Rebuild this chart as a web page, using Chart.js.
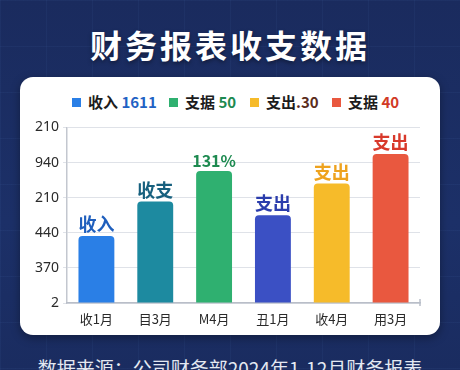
<!DOCTYPE html>
<html><head><meta charset="utf-8">
<script src="https://cdn.jsdelivr.net/npm/chart.js@4/dist/chart.umd.min.js"></script>
<style>
html,body{margin:0;padding:0;}
body{width:460px;height:370px;overflow:hidden;position:relative;font-family:"Noto Sans CJK SC","Noto Sans",sans-serif;
background:
 linear-gradient(rgba(90,130,200,0.07) 1px, transparent 1px) 0 0/46px 46px,
 linear-gradient(90deg, rgba(90,130,200,0.07) 1px, transparent 1px) 0 0/46px 46px,
 linear-gradient(180deg,#1a2b5e 0%,#1c3068 60%,#1a2c60 100%);}
#title{position:absolute;left:0;top:22px;width:460px;text-align:center;color:#fff;font-size:32px;font-weight:700;letter-spacing:3px;line-height:44px;text-shadow:0 2px 4px rgba(0,0,0,0.4);}
#card{position:absolute;left:20px;top:77px;width:420px;height:258px;background:#fff;border-radius:13px;box-shadow:0 3px 10px rgba(0,0,0,0.35);}
#legend{position:absolute;left:20px;top:91px;width:420px;height:22px;font-size:15px;font-weight:700;color:#1c1c1c;}
.li{position:absolute;top:0;line-height:22px;white-space:nowrap;}
.sq{display:inline-block;width:9px;height:9px;margin-right:7px;vertical-align:1px;}
#cv{position:absolute;left:20px;top:115px;}
#foot{position:absolute;left:0;top:355px;width:460px;text-align:center;color:#e4e9f2;font-size:19px;line-height:26px;}
</style></head>
<body>
<div id="title">财务报表收支数据</div>
<div id="card"></div>
<div id="legend"></div>
<canvas id="cv" width="420" height="215"></canvas>
<div id="foot">数据来源：公司财务部2024年1-12月财务报表</div>
<script>
const categories = ["收1月","目3月","M4月","丑1月","收4月","用3月"];
const values = [1.91, 2.89, 3.76, 2.50, 3.40, 4.24];
const barLabels = ["收入","收支","131%","支出","支出","支出"];
const yTickLabels = ["2","370","440","210","940","210"];
const legendNames = ["收入","支据","支出","支据"];
const legendValues = ["1611","50",".30","40"];

const barColors = ["#2a7fe6","#1d8aa0","#2fb070","#3b50c4","#f6bb2a","#e9583f"];
const labelColors = ["#1f5fbd","#17607e","#1d8a50","#2b3dac","#eea21e","#d8392b"];
const legendSq = ["#2a7fe6","#2fb070","#f6bb2a","#e9583f"];
const legendValColors = ["#1f62c4","#1d8a50","#5a2c1c","#d13a26"];
const legendX = [52,149,230,312];

const lg = document.getElementById('legend');
legendNames.forEach((n,i)=>{
  const d=document.createElement('div');d.className='li';d.style.left=legendX[i]+'px';
  d.innerHTML='<span class="sq" style="background:'+legendSq[i]+'"></span>'+n+
    (i===2?'':' ')+'<span style="color:'+legendValColors[i]+'">'+legendValues[i]+'</span>';
  lg.appendChild(d);
});

const valueLabelPlugin = {
  id:'vl',
  afterDatasetsDraw(chart){
    const ctx=chart.ctx; const meta=chart.getDatasetMeta(0);
    ctx.save(); ctx.textAlign='center'; ctx.textBaseline='alphabetic';
    meta.data.forEach((bar,i)=>{
      const small = barLabels[i].indexOf('%')>=0;
      ctx.font='700 '+(small?16:18)+'px "Noto Sans CJK SC", sans-serif';
      ctx.fillStyle=labelColors[i];
      ctx.fillText(barLabels[i], bar.x, bar.y-(small?4:5));
    });
    const a=chart.chartArea;
    ctx.strokeStyle='#b9bec8';ctx.lineWidth=1.5;
    ctx.beginPath();ctx.moveTo(a.right,a.bottom-4);ctx.lineTo(a.right,a.bottom+3);ctx.stroke();
    ctx.restore();
  }
};

new Chart(document.getElementById('cv'),{
  type:'bar',
  data:{labels:categories,datasets:[{data:values,backgroundColor:barColors,borderRadius:4,borderSkipped:'bottom',barPercentage:0.61,categoryPercentage:1}]},
  options:{
    responsive:false,animation:false,devicePixelRatio:1,
    layout:{padding:{top:10,right:20,left:0,bottom:0}},
    plugins:{legend:{display:false},tooltip:{enabled:false}},
    scales:{
      y:{min:0,max:5,afterFit:s=>{s.width=47;},
        ticks:{stepSize:1,padding:4,color:'#2a2a2a',font:{size:14,family:'"Noto Sans", sans-serif'},callback:(v)=>yTickLabels[v]},
        grid:{color:'#dfe2e8',lineWidth:1,tickLength:4,drawTicks:true},
        border:{color:'#c3c7cf',width:1.5}},
      x:{afterFit:s=>{s.height=27;},
        ticks:{padding:0,color:'#2a2a2a',font:{size:13,family:'"Noto Sans CJK SC", sans-serif'}},
        grid:{display:false},
        border:{color:'#b9bec8',width:1.5}}
    }
  },
  plugins:[valueLabelPlugin]
});
</script>
</body></html>
